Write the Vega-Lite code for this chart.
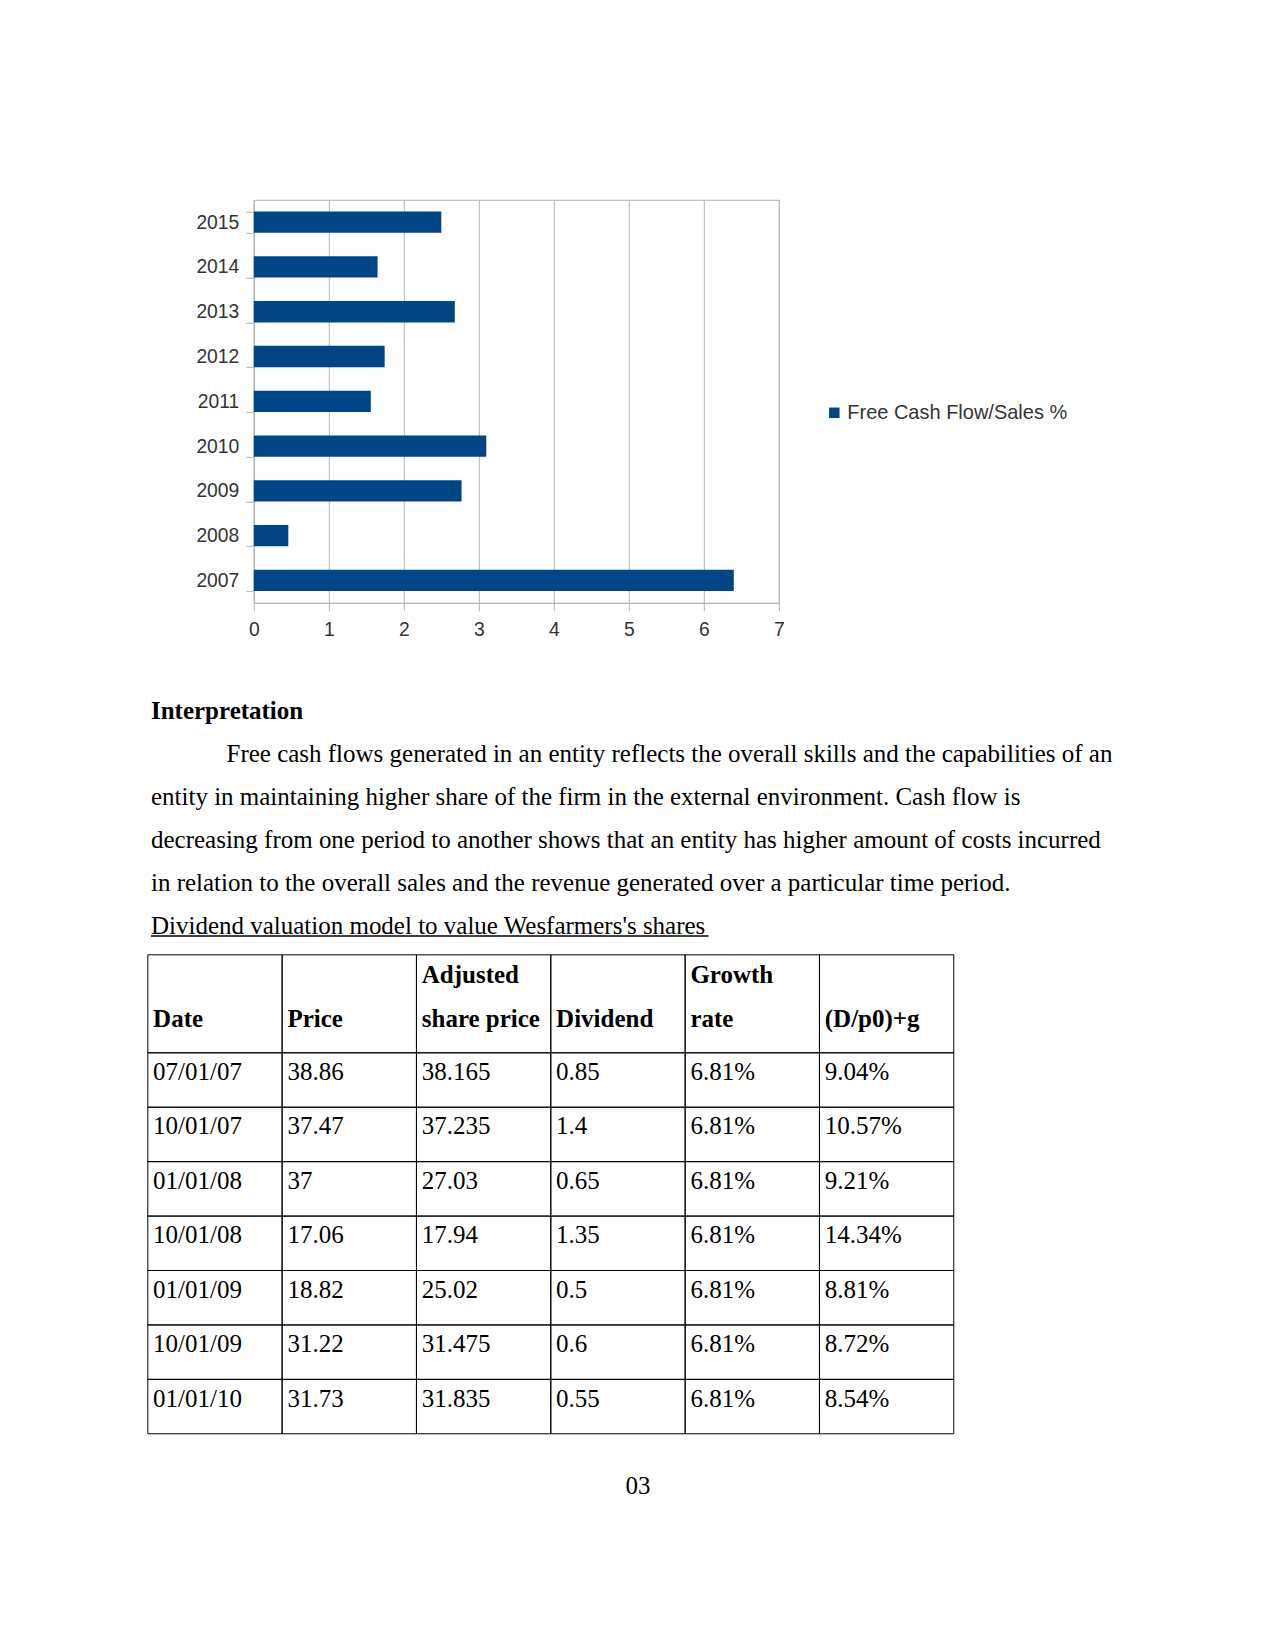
{
  "$schema": "https://vega.github.io/schema/vega-lite/v6.json",
  "background": "white",
  "padding": {"left": 146.8, "top": 189.8, "right": 0, "bottom": 0},
  "bounds": "flush",
  "spacing": 0,
  "config": {"view": {"stroke": null}, "font": "Liberation Sans"},
  "vconcat": [
    {
      "width": 525,
      "height": 403,
      "view": {"stroke": "#b3b3b3", "strokeWidth": 1},
      "data": {"values": [
        {"year": "2015", "fcf": 2.50, "series": "Free Cash Flow/Sales %"},
        {"year": "2014", "fcf": 1.65, "series": "Free Cash Flow/Sales %"},
        {"year": "2013", "fcf": 2.68, "series": "Free Cash Flow/Sales %"},
        {"year": "2012", "fcf": 1.745, "series": "Free Cash Flow/Sales %"},
        {"year": "2011", "fcf": 1.56, "series": "Free Cash Flow/Sales %"},
        {"year": "2010", "fcf": 3.10, "series": "Free Cash Flow/Sales %"},
        {"year": "2009", "fcf": 2.77, "series": "Free Cash Flow/Sales %"},
        {"year": "2008", "fcf": 0.46, "series": "Free Cash Flow/Sales %"},
        {"year": "2007", "fcf": 6.40, "series": "Free Cash Flow/Sales %"}
      ]},
      "mark": {"type": "bar"},
      "encoding": {
        "y": {
          "field": "year", "type": "nominal",
          "scale": {"domain": ["2015", "2014", "2013", "2012", "2011", "2010", "2009", "2008", "2007"], "paddingInner": 0.524, "paddingOuter": 0.262},
          "axis": {"title": null, "tickBand": "extent", "grid": false, "domainColor": "#b3b3b3", "tickColor": "#b3b3b3", "tickSize": 8, "labelPadding": 7, "labelFont": "Liberation Sans", "labelFontSize": 19.3, "labelColor": "#333333"}
        },
        "x": {
          "field": "fcf", "type": "quantitative",
          "scale": {"domain": [0, 7], "nice": false},
          "axis": {"title": null, "values": [0, 1, 2, 3, 4, 5, 6, 7], "format": "d", "grid": true, "gridColor": "#b3b3b3", "domainColor": "#b3b3b3", "tickColor": "#b3b3b3", "tickSize": 8, "labelPadding": 10, "labelFlush": false, "labelFont": "Liberation Sans", "labelFontSize": 19.3, "labelColor": "#333333"}
        },
        "color": {
          "field": "series", "type": "nominal",
          "scale": {"range": ["#004586"]},
          "legend": {"title": null, "orient": "none", "legendX": 570.5, "legendY": 203, "symbolType": "square", "symbolSize": 110, "symbolStrokeWidth": 0, "labelFont": "Liberation Sans", "labelFontSize": 20, "labelColor": "#333333", "labelOffset": 3, "labelLimit": 500, "padding": 0}
        }
      }
    },
    {
      "width": 525,
      "height": 352,
      "data": {"values": [
        {"line": 1, "text": "Interpretation"},
        {"line": 2, "text": "Free cash flows generated in an entity reflects the overall skills and the capabilities of an"},
        {"line": 3, "text": "entity in maintaining higher share of the firm in the external environment. Cash flow is"},
        {"line": 4, "text": "decreasing from one period to another shows that an entity has higher amount of costs incurred"},
        {"line": 5, "text": "in relation to the overall sales and the revenue generated over a particular time period."},
        {"line": 6, "text": "Dividend valuation model to value Wesfarmers's shares"}
      ]},
      "encoding": {
        "x": {"datum": 0, "type": "quantitative", "scale": {"domain": [0, 1], "range": [-102.8, 871.2]}, "axis": null},
        "y": {"field": "line", "type": "ordinal", "bandPosition": 0.7, "scale": {"type": "band", "domain": [1, 2, 3, 4, 5, 6], "range": [86.14, 343.78], "paddingInner": 0, "paddingOuter": 0}, "axis": null}
      },
      "layer": [
        {
          "transform": [{"filter": "datum.line == 1"}],
          "mark": {"type": "text", "font": "Liberation Serif", "fontSize": 25, "fontWeight": "bold", "align": "left", "baseline": "alphabetic", "color": "black"},
          "encoding": {"text": {"field": "text"}}
        },
        {
          "transform": [{"filter": "datum.line == 2"}],
          "mark": {"type": "text", "font": "Liberation Serif", "fontSize": 25, "align": "left", "baseline": "alphabetic", "color": "black", "dx": 75.5},
          "encoding": {"text": {"field": "text"}}
        },
        {
          "transform": [{"filter": "datum.line >= 3"}],
          "mark": {"type": "text", "font": "Liberation Serif", "fontSize": 25, "align": "left", "baseline": "alphabetic", "color": "black"},
          "encoding": {"text": {"field": "text"}}
        },
        {
          "transform": [{"filter": "datum.line == 6"}],
          "mark": {"type": "rule", "color": "black", "strokeWidth": 1.6},
          "encoding": {
            "x2": {"datum": 0.5724},
            "y": {"field": "line", "type": "ordinal", "bandPosition": 0.754}
          }
        }
      ]
    },
    {
      "width": 525,
      "height": 98,
      "layer": [
        {
          "data": {"values": [{"col": "date"}, {"col": "price"}, {"col": "adj"}, {"col": "div"}, {"col": "growth"}, {"col": "dpg"}]},
          "mark": {"type": "rect", "fillOpacity": 0, "stroke": "black", "strokeWidth": 1},
          "encoding": {
            "x": {"field": "col", "type": "nominal", "scale": {"type": "band", "domain": ["date", "price", "adj", "div", "growth", "dpg"], "range": [-106, 700], "paddingInner": 0, "paddingOuter": 0}, "axis": null}
          }
        },
        {
          "data": {"values": [
            {"col": "date", "line": 2, "text": "Date"},
            {"col": "price", "line": 2, "text": "Price"},
            {"col": "adj", "line": 1, "text": "Adjusted"},
            {"col": "adj", "line": 2, "text": "share price"},
            {"col": "div", "line": 2, "text": "Dividend"},
            {"col": "growth", "line": 1, "text": "Growth"},
            {"col": "growth", "line": 2, "text": "rate"},
            {"col": "dpg", "line": 2, "text": "(D/p0)+g"}
          ]},
          "mark": {"type": "text", "font": "Liberation Serif", "fontSize": 25, "fontWeight": "bold", "align": "left", "baseline": "alphabetic", "color": "black", "dx": 5.3},
          "encoding": {
            "x": {"field": "col", "type": "nominal", "bandPosition": 0, "axis": null},
            "y": {"field": "line", "type": "ordinal", "scale": {"type": "point", "domain": [1, 2], "range": [28, 72.2], "padding": 0}, "axis": null},
            "text": {"field": "text"}
          }
        }
      ]
    },
    {
      "width": 525,
      "height": 381,
      "data": {"values": [
        {"row": 1, "date": "07/01/07", "price": "38.86", "adj": "38.165", "div": "0.85", "growth": "6.81%", "dpg": "9.04%"},
        {"row": 2, "date": "10/01/07", "price": "37.47", "adj": "37.235", "div": "1.4", "growth": "6.81%", "dpg": "10.57%"},
        {"row": 3, "date": "01/01/08", "price": "37", "adj": "27.03", "div": "0.65", "growth": "6.81%", "dpg": "9.21%"},
        {"row": 4, "date": "10/01/08", "price": "17.06", "adj": "17.94", "div": "1.35", "growth": "6.81%", "dpg": "14.34%"},
        {"row": 5, "date": "01/01/09", "price": "18.82", "adj": "25.02", "div": "0.5", "growth": "6.81%", "dpg": "8.81%"},
        {"row": 6, "date": "10/01/09", "price": "31.22", "adj": "31.475", "div": "0.6", "growth": "6.81%", "dpg": "8.72%"},
        {"row": 7, "date": "01/01/10", "price": "31.73", "adj": "31.835", "div": "0.55", "growth": "6.81%", "dpg": "8.54%"}
      ]},
      "transform": [{"fold": ["date", "price", "adj", "div", "growth", "dpg"], "as": ["col", "value"]}],
      "encoding": {
        "x": {"field": "col", "type": "nominal", "scale": {"type": "band", "domain": ["date", "price", "adj", "div", "growth", "dpg"], "range": [-106, 700], "paddingInner": 0, "paddingOuter": 0}, "axis": null},
        "y": {"field": "row", "type": "ordinal", "scale": {"type": "band", "domain": [1, 2, 3, 4, 5, 6, 7], "range": [0, 381], "paddingInner": 0, "paddingOuter": 0}, "axis": null}
      },
      "layer": [
        {
          "mark": {"type": "rect", "fillOpacity": 0, "stroke": "black", "strokeWidth": 1}
        },
        {
          "mark": {"type": "text", "font": "Liberation Serif", "fontSize": 25, "align": "left", "baseline": "alphabetic", "color": "black", "dx": 5.3},
          "encoding": {
            "x": {"field": "col", "type": "nominal", "bandPosition": 0},
            "text": {"field": "value"}
          }
        }
      ]
    },
    {
      "width": 525,
      "height": 60,
      "data": {"values": [{"page": "03"}]},
      "mark": {"type": "text", "font": "Liberation Serif", "fontSize": 25, "align": "center", "baseline": "alphabetic", "color": "black"},
      "encoding": {
        "x": {"datum": 0.5, "type": "quantitative", "scale": {"domain": [0, 1], "range": [-102.8, 871.2]}, "axis": null},
        "y": {"datum": 0, "type": "quantitative", "scale": {"domain": [0, 1], "range": [60, 0]}, "axis": null},
        "text": {"field": "page"}
      }
    }
  ]
}
